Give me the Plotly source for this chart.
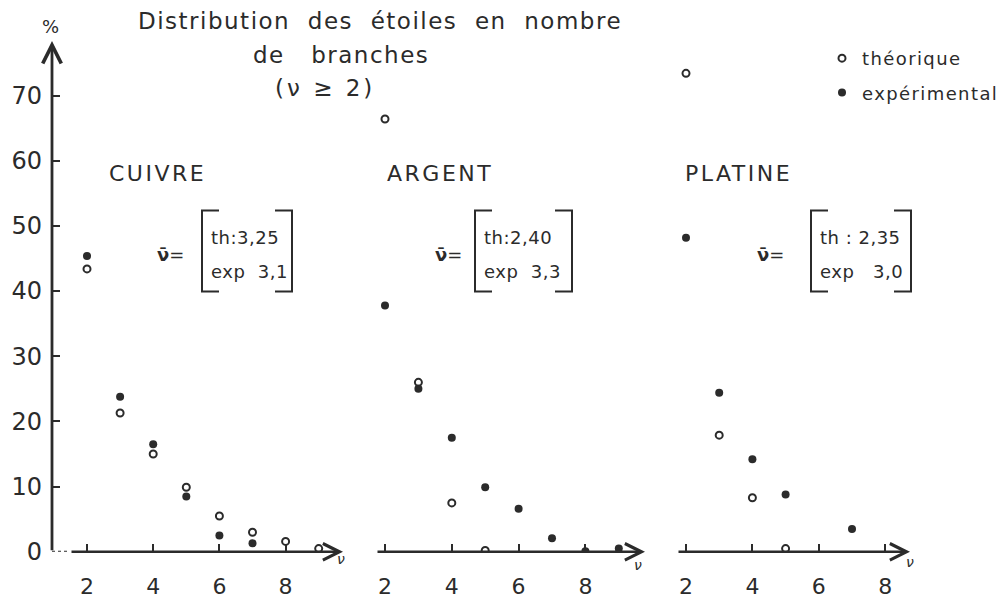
import plotly.graph_objects as go

# ---- data: star distribution by number of branches (%), nu >= 2 ----
nu_cu_th = [2, 3, 4, 5, 6, 7, 8, 9]
cuivre_th = [43.4, 21.3, 15.0, 9.9, 5.5, 3.0, 1.6, 0.5]
nu_cu_exp = [2, 3, 4, 5, 6, 7]
cuivre_exp = [45.4, 23.8, 16.5, 8.5, 2.5, 1.3]

nu_ag_th = [2, 3, 4, 5]
argent_th = [66.4, 26.0, 7.5, 0.2]
nu_ag_exp = [2, 3, 4, 5, 6, 7, 8, 9]
argent_exp = [37.8, 25.0, 17.5, 9.9, 6.6, 2.1, 0.1, 0.5]

nu_pt_th = [2, 3, 4, 5]
platine_th = [73.4, 17.9, 8.3, 0.5]
nu_pt_exp = [2, 3, 4, 5, 7]
platine_exp = [48.2, 24.4, 14.2, 8.8, 3.5]

metals = ["CUIVRE", "ARGENT", "PLATINE"]
mean_th = ["th:3,25", "th:2,40", "th\u00a0:\u00a02,35"]
mean_exp = ["exp\u00a0\u00a03,1", "exp\u00a0\u00a03,3", "exp\u00a0\u00a0\u00a03,0"]
x_ticks = [2, 4, 6, 8]
y_ticks = [0, 10, 20, 30, 40, 50, 60, 70]

# ---- page geometry (pixels) ----
W, H = 1006, 599
INK = "#2b2b2b"
FONT = "DejaVu Sans"
Y0_PX, PX_PER_PCT = 566, 6.686           # baseline and vertical scale
panels = [
    dict(x2=87, ppu=33.1, dom=(15, 365), ax_start=52, tip=343, vlab=(341, 573)),
    dict(x2=385, ppu=33.4, dom=(365, 665), ax_start=376, tip=645, vlab=(638, 580)),
    dict(x2=686, ppu=33.2, dom=(665, 1000), ax_start=677, tip=910, vlab=(910, 576)),
]


def px_to_nu(p, px):
    return 2 + (px - p["x2"]) / p["ppu"]


def px(x):
    return x / W


def py(y):
    return 1 - y / H


def spaced(text, sp):
    return f'<span style="letter-spacing:{sp}px">{text}</span>'


def label(x, y, text, size, xanchor="center", yanchor="middle"):
    fig.add_annotation(x=px(x), y=py(y), xref="paper", yref="paper",
                       xanchor=xanchor, yanchor=yanchor, text=text,
                       showarrow=False,
                       font=dict(size=size, family=FONT, color=INK))


fig = go.Figure()

series = [
    (nu_cu_th, cuivre_th, nu_cu_exp, cuivre_exp),
    (nu_ag_th, argent_th, nu_ag_exp, argent_exp),
    (nu_pt_th, platine_th, nu_pt_exp, platine_exp),
]

for i, (xt, yt, xe, ye) in enumerate(series):
    xa = "x" if i == 0 else f"x{i + 1}"
    fig.add_trace(go.Scatter(
        x=xt, y=yt, mode="markers", xaxis=xa, yaxis="y",
        name=spaced("théorique", 1.4), legendgroup="th", showlegend=(i == 0),
        marker=dict(symbol="circle-open", size=7, color=INK,
                    line=dict(width=2, color=INK)),
    ))
    fig.add_trace(go.Scatter(
        x=xe, y=ye, mode="markers", xaxis=xa, yaxis="y",
        name=spaced("expérimental", 1.4), legendgroup="exp", showlegend=(i == 0),
        marker=dict(symbol="circle", size=8, color=INK),
    ))

layout = dict(
    width=W, height=H,
    margin=dict(l=0, r=0, t=0, b=0),
    paper_bgcolor="white", plot_bgcolor="rgba(0,0,0,0)",
    font=dict(family=FONT, color=INK),
    showlegend=True,
    legend=dict(x=px(822), y=py(41), xanchor="left", yanchor="top",
                font=dict(size=18, family=FONT, color=INK),
                traceorder="grouped", tracegroupgap=8,
                bgcolor="rgba(0,0,0,0)", itemwidth=30),
    yaxis=dict(domain=[(H - Y0_PX) / H, 1],
               range=[0, Y0_PX / PX_PER_PCT],
               anchor="free", position=px(52),
               tickvals=y_ticks, ticks="inside", ticklen=7, tickwidth=2,
               tickcolor=INK, showgrid=False, zeroline=False, showline=False,
               tickfont=dict(size=24, family=FONT, color=INK),
               ticklabelstandoff=10),
)

for i, p in enumerate(panels):
    key = "xaxis" if i == 0 else f"xaxis{i + 1}"
    layout[key] = dict(
        domain=[px(p["dom"][0]), px(p["dom"][1])],
        range=[px_to_nu(p, p["dom"][0]), px_to_nu(p, p["dom"][1])],
        anchor="y", tickvals=x_ticks, ticks="inside", ticklen=8,
        tickwidth=2, tickcolor=INK, showgrid=False, zeroline=False,
        showline=False, tickfont=dict(size=22, family=FONT, color=INK),
        ticklabelstandoff=19,
    )

fig.update_layout(**layout)

# ---- axes drawn as arrows ----
ref_names = ["x", "x2", "x3"]
for i, p in enumerate(panels):
    xr = ref_names[i]
    start = px_to_nu(p, p["ax_start"])
    tip = px_to_nu(p, p["tip"])
    if i == 0:
        solid_from = px_to_nu(p, 70)
        fig.add_shape(type="line", xref=xr, yref="y", x0=start, x1=solid_from,
                      y0=0, y1=0, line=dict(color=INK, width=2, dash="dot"))
    else:
        solid_from = start
    fig.add_annotation(x=tip, y=0, ax=solid_from, ay=0, xref=xr, yref="y",
                       axref=xr, ayref="y", text="", showarrow=True,
                       arrowhead=5, arrowsize=1.3, arrowwidth=2.5,
                       arrowcolor=INK)
    label(p["vlab"][0], p["vlab"][1], "<i>ν</i>", 14)

# vertical axis of the first panel
p0 = panels[0]
yx = px_to_nu(p0, 52)
fig.add_annotation(x=yx, y=(Y0_PX - 42) / PX_PER_PCT, ax=yx, ay=0,
                   xref="x", yref="y", axref="x", ayref="y", text="",
                   showarrow=True, arrowhead=5, arrowsize=1.3, arrowwidth=2.8,
                   arrowcolor=INK)
label(50, 27, "%", 18)

# ---- title ----
NB = "\u00a0"
GAP = NB * 2
title_lines = [
    ("Distribution" + GAP + "des" + GAP + "étoiles" + GAP + "en" + GAP + "nombre", 380, 22, 1.5),
    ("de" + NB * 3 + "branches", 341, 56, 1.5),
    ("(ν" + NB + "≥" + NB + "2)", 325, 90, 3),
]
for text, cx, cy, sp in title_lines:
    label(cx, cy, spaced(text, sp), 23)

# ---- metal labels and mean branch number boxes ----
label_left = [107, 385, 683]
nubar_cx = [170, 448, 770]
box = [(202, 292), (475, 572), (811, 911)]
for i, name in enumerate(metals):
    label(label_left[i], 178, spaced(name, 2.5), 22, xanchor="left")
    label(nubar_cx[i], 261, "<b>ν̄</b>=", 18)
    l, r = box[i]
    top, bot, serif = 216, 299, 17
    left_path = (f"M {px(l + serif)} {py(top)} L {px(l)} {py(top)} "
                 f"L {px(l)} {py(bot)} L {px(l + serif)} {py(bot)}")
    right_path = (f"M {px(r - serif)} {py(top)} L {px(r)} {py(top)} "
                  f"L {px(r)} {py(bot)} L {px(r - serif)} {py(bot)}")
    for path in (left_path, right_path):
        fig.add_shape(type="path", xref="paper", yref="paper", path=path,
                      line=dict(color=INK, width=2))
    label(l + 7, 244, spaced(mean_th[i], 0.5), 18, xanchor="left")
    label(l + 7, 278, spaced(mean_exp[i], 0.5), 18, xanchor="left")

fig.write_html("out.html")
